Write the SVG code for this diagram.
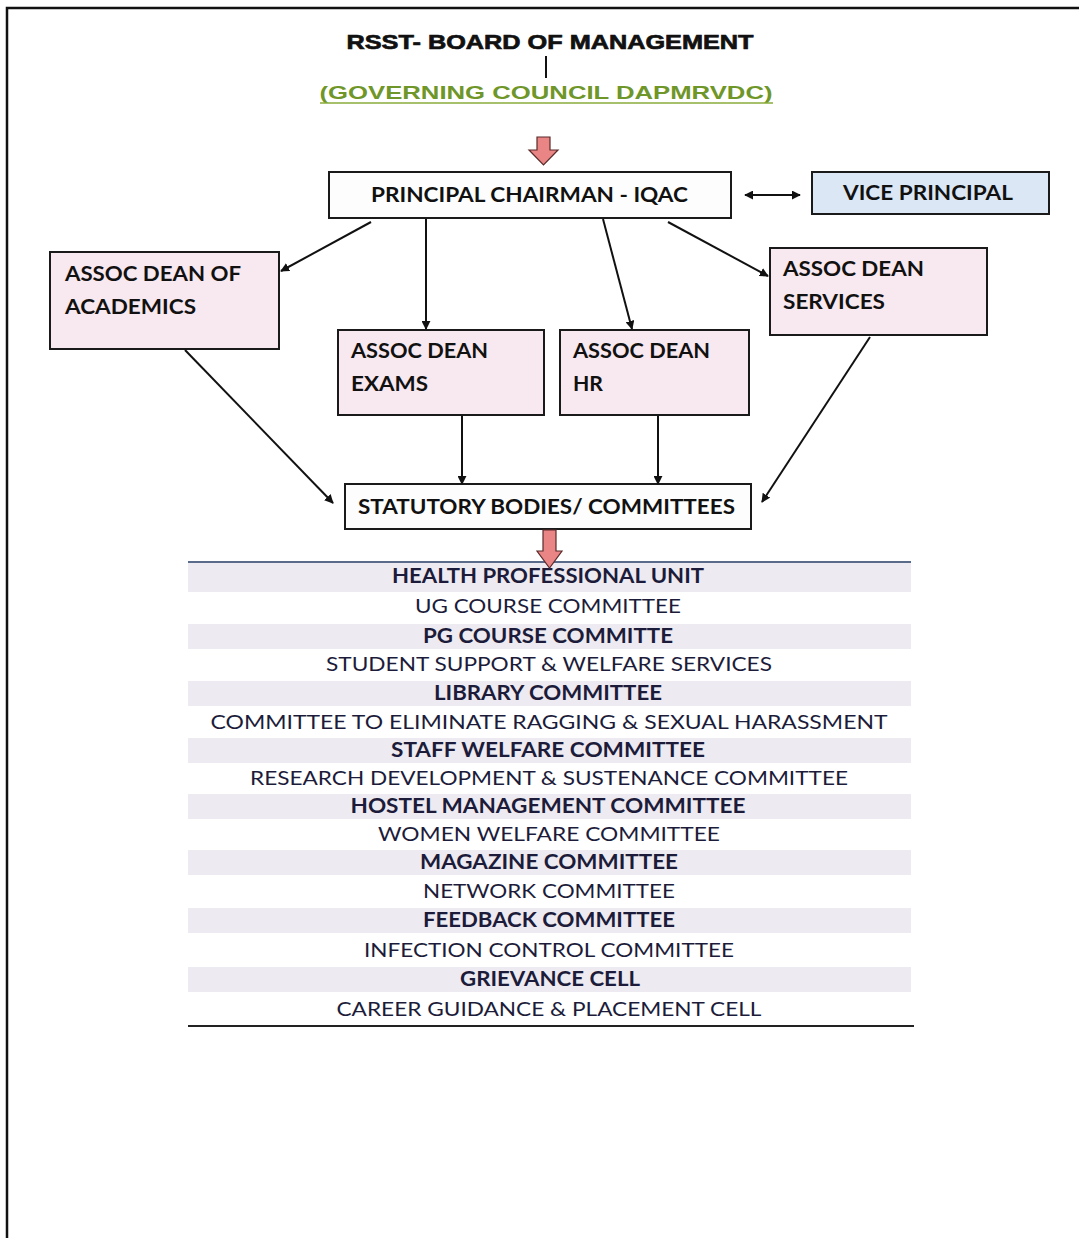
<svg xmlns="http://www.w3.org/2000/svg" width="1079" height="1240" viewBox="0 0 1079 1240">
<defs>
<marker id="ah" viewBox="0 0 10 10" refX="9" refY="5" markerWidth="9" markerHeight="9" markerUnits="userSpaceOnUse" orient="auto-start-reverse">
<path d="M0,0 L10,5 L0,10 z" fill="#111"/>
</marker>
<style>
.box{stroke:#1a1a1a;stroke-width:2}
.pink{fill:#f8e8ef}
.bt{font-family:Lato,"Open Sans","Liberation Sans",sans-serif;font-weight:bold;font-size:21px;fill:#111}
.li{font-family:Lato,"Open Sans","Liberation Sans",sans-serif;font-size:20px;fill:#1c1c3a;text-anchor:middle}
.lb{font-weight:bold}
.stripe{fill:#eeeaf1}
.con{stroke:#111;stroke-width:2;fill:none}
.red{fill:#e98585;stroke:#5a2a2a;stroke-width:1.2}
</style>
</defs>
<rect width="1079" height="1240" fill="#fff"/>
<path d="M7,1238 L7,8 L1079,8" fill="none" stroke="#111" stroke-width="2.5"/>

<g id="title">
<text x="550" y="49" font-family="'Liberation Sans',Arial,sans-serif" font-weight="bold" font-size="21" text-anchor="middle" textLength="407" lengthAdjust="spacingAndGlyphs" fill="#111" stroke="#111" stroke-width="0.7">RSST- BOARD OF MANAGEMENT</text>
</g>
<g id="governing">
<text x="546" y="99" font-family="'Liberation Sans',Arial,sans-serif" font-weight="bold" font-size="19" text-anchor="middle" textLength="453" lengthAdjust="spacingAndGlyphs" fill="#6f9628">(GOVERNING COUNCIL DAPMRVDC)</text>
<line x1="320" y1="103" x2="773" y2="103" stroke="#8aab3a" stroke-width="1.5"/>
</g>

<g id="principal">
<rect class="box" x="329" y="172" width="402" height="46" fill="#fdfdfd"/>
<text class="bt" x="371" y="202" textLength="317" lengthAdjust="spacingAndGlyphs">PRINCIPAL CHAIRMAN - IQAC</text>
</g>
<g id="vice">
<rect class="box" x="812" y="172" width="237" height="42" fill="#dce7f6"/>
<text class="bt" x="843" y="200" textLength="170" lengthAdjust="spacingAndGlyphs">VICE PRINCIPAL</text>
</g>
<g id="academics">
<rect class="box pink" x="50" y="252" width="229" height="97"/>
<text class="bt" x="65" y="281" textLength="176" lengthAdjust="spacingAndGlyphs">ASSOC DEAN OF</text>
<text class="bt" x="65" y="314" textLength="131" lengthAdjust="spacingAndGlyphs">ACADEMICS</text>
</g>
<g id="exams">
<rect class="box pink" x="338" y="330" width="206" height="85"/>
<text class="bt" x="351" y="358" textLength="137" lengthAdjust="spacingAndGlyphs">ASSOC DEAN</text>
<text class="bt" x="351" y="391" textLength="77" lengthAdjust="spacingAndGlyphs">EXAMS</text>
</g>
<g id="hr">
<rect class="box pink" x="560" y="330" width="189" height="85"/>
<text class="bt" x="573" y="358" textLength="137" lengthAdjust="spacingAndGlyphs">ASSOC DEAN</text>
<text class="bt" x="573" y="391" textLength="30" lengthAdjust="spacingAndGlyphs">HR</text>
</g>
<g id="services">
<rect class="box pink" x="770" y="248" width="217" height="87"/>
<text class="bt" x="783" y="276" textLength="141" lengthAdjust="spacingAndGlyphs">ASSOC DEAN</text>
<text class="bt" x="783" y="309" textLength="102" lengthAdjust="spacingAndGlyphs">SERVICES</text>
</g>
<g id="statutory">
<rect class="box" x="345" y="484" width="406" height="45" fill="#fdfdfd"/>
<text class="bt" x="358" y="514" textLength="377" lengthAdjust="spacingAndGlyphs">STATUTORY BODIES/ COMMITTEES</text>
</g>

<g id="committees">
<rect class="stripe" x="188" y="563" width="723" height="29"/>
<rect class="stripe" x="188" y="624" width="723" height="25"/>
<rect class="stripe" x="188" y="681" width="723" height="25"/>
<rect class="stripe" x="188" y="738" width="723" height="25"/>
<rect class="stripe" x="188" y="794" width="723" height="25"/>
<rect class="stripe" x="188" y="850" width="723" height="25"/>
<rect class="stripe" x="188" y="908" width="723" height="25"/>
<rect class="stripe" x="188" y="967" width="723" height="25"/>
<line x1="188" y1="562" x2="911" y2="562" stroke="#5a6a8a" stroke-width="2"/>
<line x1="188" y1="1026" x2="914" y2="1026" stroke="#222" stroke-width="2"/>
<text class="li lb" x="548" y="583" textLength="312" lengthAdjust="spacingAndGlyphs">HEALTH PROFESSIONAL UNIT</text>
<text class="li" x="548" y="613" textLength="266" lengthAdjust="spacingAndGlyphs">UG COURSE COMMITTEE</text>
<text class="li lb" x="548" y="643" textLength="250" lengthAdjust="spacingAndGlyphs">PG COURSE COMMITTE</text>
<text class="li" x="549" y="671" textLength="446" lengthAdjust="spacingAndGlyphs">STUDENT SUPPORT &amp; WELFARE SERVICES</text>
<text class="li lb" x="548" y="700" textLength="228" lengthAdjust="spacingAndGlyphs">LIBRARY COMMITTEE</text>
<text class="li" x="549" y="729" textLength="677" lengthAdjust="spacingAndGlyphs">COMMITTEE TO ELIMINATE RAGGING &amp; SEXUAL HARASSMENT</text>
<text class="li lb" x="548" y="757" textLength="314" lengthAdjust="spacingAndGlyphs">STAFF WELFARE COMMITTEE</text>
<text class="li" x="549" y="785" textLength="598" lengthAdjust="spacingAndGlyphs">RESEARCH DEVELOPMENT &amp; SUSTENANCE COMMITTEE</text>
<text class="li lb" x="548" y="813" textLength="395" lengthAdjust="spacingAndGlyphs">HOSTEL MANAGEMENT COMMITTEE</text>
<text class="li" x="549" y="841" textLength="342" lengthAdjust="spacingAndGlyphs">WOMEN WELFARE COMMITTEE</text>
<text class="li lb" x="549" y="869" textLength="258" lengthAdjust="spacingAndGlyphs">MAGAZINE COMMITTEE</text>
<text class="li" x="549" y="898" textLength="252" lengthAdjust="spacingAndGlyphs">NETWORK COMMITTEE</text>
<text class="li lb" x="549" y="927" textLength="252" lengthAdjust="spacingAndGlyphs">FEEDBACK COMMITTEE</text>
<text class="li" x="549" y="957" textLength="370" lengthAdjust="spacingAndGlyphs">INFECTION CONTROL COMMITTEE</text>
<text class="li lb" x="550" y="986" textLength="180" lengthAdjust="spacingAndGlyphs">GRIEVANCE CELL</text>
<text class="li" x="549" y="1016" textLength="425" lengthAdjust="spacingAndGlyphs">CAREER GUIDANCE &amp; PLACEMENT CELL</text>
</g>

<g id="connectors">
<line x1="546" y1="56" x2="546" y2="78" stroke="#111" stroke-width="2"/>
<path class="red" d="M537,137 L550,137 L550,150 L558,150 L543.5,165 L529,150 L537,150 z"/>
<line class="con" x1="745" y1="195" x2="800" y2="195" marker-start="url(#ah)" marker-end="url(#ah)"/>
<line class="con" x1="371" y1="222" x2="281" y2="271" marker-end="url(#ah)"/>
<line class="con" x1="426" y1="219" x2="426" y2="329" marker-end="url(#ah)"/>
<line class="con" x1="603" y1="219" x2="632" y2="329" marker-end="url(#ah)"/>
<line class="con" x1="668" y1="222" x2="768" y2="276" marker-end="url(#ah)"/>
<line class="con" x1="185" y1="350" x2="333" y2="503" marker-end="url(#ah)"/>
<line class="con" x1="462" y1="416" x2="462" y2="484" marker-end="url(#ah)"/>
<line class="con" x1="658" y1="416" x2="658" y2="484" marker-end="url(#ah)"/>
<line class="con" x1="870" y1="337" x2="762" y2="502" marker-end="url(#ah)"/>
<path class="red" d="M543,530 L556,530 L556,551 L562,551 L549.5,568 L537,551 L543,551 z"/>
</g>
</svg>
